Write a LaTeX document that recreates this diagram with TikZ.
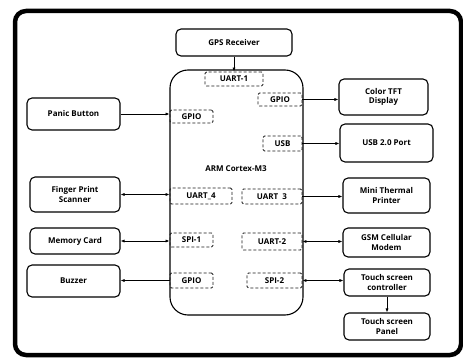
\documentclass[tikz,border=0pt]{standalone}
\usepackage{fontspec}
\setmainfont{Open Sans}
\usetikzlibrary{arrows.meta}

\begin{document}
\begin{tikzpicture}[x=1pt,y=-1pt,
    blk/.style={draw, line width=1.1pt, rounded corners=5pt, align=center,
        font=\bfseries\fontsize{8}{9.5}\selectfont, inner sep=1pt},
    port/.style={draw=black!90, densely dashed, line width=0.9pt, rounded corners=1.5pt,
        font=\bfseries\fontsize{8}{9.5}\selectfont, inner sep=0pt},
    lnk/.style={line width=0.9pt, -{Latex[length=4pt,width=3.2pt]}},
    lnkb/.style={line width=0.9pt, {Latex[length=4pt,width=3.2pt]}-{Latex[length=4pt,width=3.2pt]}}]
    \useasboundingbox (0,0) rectangle (463,358);

    % frame
    \draw[line width=4.5pt, rounded corners=11pt] (15,11) rectangle (461,355);

    % processor
    \node[draw, line width=1.1pt, rounded corners=18pt, minimum width=133pt, minimum height=245pt] (arm) at (236.5,192.5) {};
    \node[font=\bfseries\fontsize{8}{9.5}\selectfont] (cpu) at (236,169) {ARM Cortex-M3};

    % ports on the processor
    \node[port, minimum width=58pt, minimum height=14pt] (u1) at (234,79) {UART-1};
    \node[port, minimum width=44pt, minimum height=13pt] (gpioR) at (280,99.5) {GPIO};
    \node[port, minimum width=43pt, minimum height=13pt] (gpioL) at (191.5,116.5) {GPIO};
    \node[port, minimum width=39pt, minimum height=15pt] (usb) at (282.5,143.5) {USB};
    \node[port, minimum width=62pt, minimum height=16pt] (u4) at (201,196) {UART\_4};
    \node[port, minimum width=60pt, minimum height=15pt] (u3) at (272,196.5) {UART\ \ 3};
    \node[port, minimum width=43pt, minimum height=14pt] (spi1) at (191.5,240) {SPI-1};
    \node[port, minimum width=60pt, minimum height=17pt] (u2) at (272,241.5) {UART-2};
    \node[port, minimum width=43pt, minimum height=15pt] (gpioB) at (191.5,280.5) {GPIO};
    \node[port, minimum width=55pt, minimum height=15pt] (spi2) at (274.5,280.5) {SPI-2};

    % devices
    \node[blk, minimum width=116pt, minimum height=27pt] (gps) at (234,42.5) {GPS Receiver};
    \node[blk, minimum width=89pt, minimum height=36pt] (tft) at (383.5,97) {Color TFT\\Display};
    \node[blk, minimum width=93pt, minimum height=32pt] (panic) at (73.5,114) {Panic Button};
    \node[blk, minimum width=93pt, minimum height=38pt] (usbp) at (386.5,143) {USB 2.0 Port};
    \node[blk, minimum width=90pt, minimum height=35pt] (fps) at (75,194.5) {Finger Print\\Scanner};
    \node[blk, minimum width=87pt, minimum height=35pt] (prn) at (386.5,195.5) {Mini Thermal\\Printer};
    \node[blk, minimum width=90pt, minimum height=26pt] (mem) at (75,241) {Memory Card};
    \node[blk, minimum width=87pt, minimum height=29pt] (gsm) at (386.5,242.5) {GSM Cellular\\Modem};
    \node[blk, minimum width=93pt, minimum height=32pt] (buz) at (73.5,281) {Buzzer};
    \node[blk, minimum width=86pt, minimum height=27pt] (tsc) at (387,282.5) {Touch screen\\controller};
    \node[blk, minimum width=86pt, minimum height=27pt] (tsp) at (387,326.5) {Touch screen\\Panel};

    % links
    \draw[lnk] (gps.south) -- (u1.north);
    \draw[lnk] (gpioR.east) -- (gpioR.east -| tft.west);
    \draw[lnk] (panic.east) -- (panic.east -| gpioL.west);
    \draw[lnk] (usb.east) -- (usb.east -| usbp.west);
    \draw[lnkb] (fps.east) -- (fps.east -| u4.west);
    \draw[lnk] (u3.east) -- (u3.east -| prn.west);
    \draw[lnkb] (mem.east) -- (mem.east -| spi1.west);
    \draw[lnkb] (u2.east) -- (u2.east -| gsm.west);
    \draw[lnk] (gpioB.west) -- (gpioB.west -| buz.east);
    \draw[lnkb] (spi2.east) -- (spi2.east -| tsc.west);
    \draw[lnk] (tsc.south) -- (tsp.north);
\end{tikzpicture}
\end{document}
